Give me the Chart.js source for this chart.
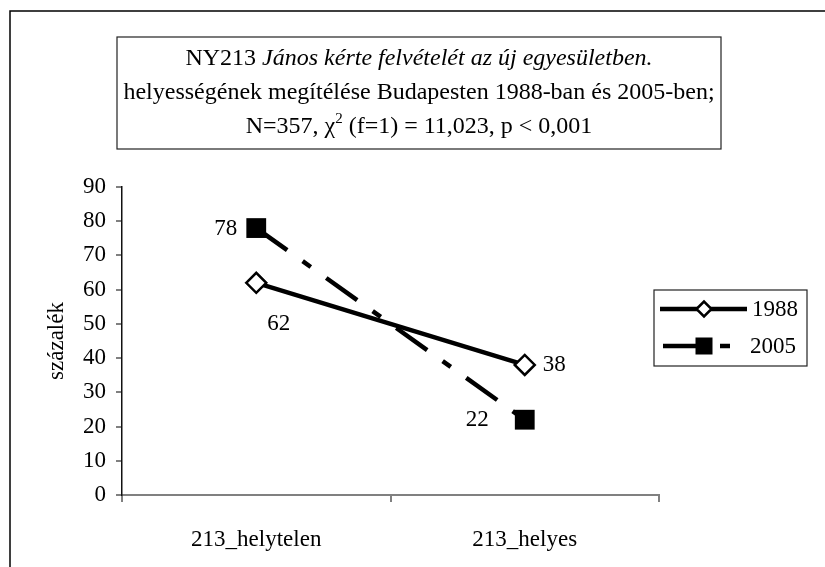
<!DOCTYPE html>
<html>
<head>
<meta charset="utf-8">
<script src="https://cdn.jsdelivr.net/npm/chart.js@4/dist/chart.umd.min.js"></script>
<style>
  html, body { margin: 0; padding: 0; background: #fff; }
  #wrap { position: relative; width: 825px; height: 567px; }
</style>
</head>
<body>
<div id="wrap"><canvas id="c"></canvas></div>
<script>
// ---- data ----
const categories = ['213_helytelen', '213_helyes'];
const seriesNames = ['1988', '2005'];
const values1988 = [62, 38];
const values2005 = [78, 22];
const yTicks = [0, 10, 20, 30, 40, 50, 60, 70, 80, 90];
const yAxisTitle = 'százalék';
const titleLine1a = 'NY213 ';
const titleLine1b = 'János kérte felvételét az új egyesületben.';
const titleLine2 = 'helyességének megítélése Budapesten 1988-ban és 2005-ben;';
const titleLine3a = 'N=357, χ';
const titleLine3sup = '2';
const titleLine3b = ' (f=1) = 11,023, p < 0,001';

const FONT = '"Liberation Serif", "Times New Roman", serif';
const FS = 23;

// label offsets per dataset/point: [dx, dy, align]
const labelPlacement = [
  [[11, 41, 'left'], [18, 0, 'left']],
  [[-19, 1, 'right'], [-36, 0, 'right']]
];

const framePlugin = {
  id: 'framePlugin',
  beforeDraw(chart) {
    const ctx = chart.ctx;
    ctx.save();
    ctx.fillStyle = '#fff';
    ctx.fillRect(0, 0, chart.width, chart.height);
    ctx.strokeStyle = '#000';
    ctx.lineWidth = 1.5;
    ctx.beginPath();
    ctx.moveTo(10, 600);
    ctx.lineTo(10, 11);
    ctx.lineTo(900, 11);
    ctx.stroke();
    // title box
    ctx.strokeStyle = '#222';
    ctx.lineWidth = 1.2;
    ctx.strokeRect(117, 37, 604, 112);
    ctx.fillStyle = '#000';
    ctx.textBaseline = 'alphabetic';
    const cx = 419;
    const norm = '24px ' + FONT;
    const ital = 'italic 24px ' + FONT;
    // line 1
    ctx.font = norm; const w1a = ctx.measureText(titleLine1a).width;
    ctx.font = ital; const w1b = ctx.measureText(titleLine1b).width;
    let x = cx - (w1a + w1b) / 2;
    ctx.textAlign = 'left';
    ctx.font = norm; ctx.fillText(titleLine1a, x, 65);
    ctx.font = ital; ctx.fillText(titleLine1b, x + w1a, 65);
    // line 2
    ctx.font = norm; ctx.textAlign = 'center';
    ctx.fillText(titleLine2, cx, 99);
    // line 3
    ctx.textAlign = 'left';
    const sup = '15px ' + FONT;
    ctx.font = norm; const w3a = ctx.measureText(titleLine3a).width;
    ctx.font = sup; const w3s = ctx.measureText(titleLine3sup).width;
    ctx.font = norm; const w3b = ctx.measureText(titleLine3b).width;
    x = cx - (w3a + w3s + w3b) / 2;
    ctx.font = norm; ctx.fillText(titleLine3a, x, 133);
    ctx.font = sup; ctx.fillText(titleLine3sup, x + w3a, 123);
    ctx.font = norm; ctx.fillText(titleLine3b, x + w3a + w3s, 133);
    ctx.restore();
  }
};

const labelPlugin = {
  id: 'labelPlugin',
  afterDatasetsDraw(chart) {
    const ctx = chart.ctx;
    ctx.save();
    ctx.font = FS + 'px ' + FONT;
    ctx.fillStyle = '#000';
    ctx.textBaseline = 'middle';
    chart.data.datasets.forEach((ds, di) => {
      const meta = chart.getDatasetMeta(di);
      meta.data.forEach((pt, i) => {
        const p = labelPlacement[di][i];
        ctx.textAlign = p[2];
        ctx.fillText(String(ds.data[i]), pt.x + p[0], pt.y + p[1]);
      });
    });
    ctx.restore();
  }
};

const legendPlugin = {
  id: 'legendPlugin',
  afterDraw(chart) {
    const ctx = chart.ctx;
    ctx.save();
    ctx.strokeStyle = '#222';
    ctx.lineWidth = 1.2;
    ctx.strokeRect(654, 290, 153, 76);
    const rows = [309, 346];
    chart.data.datasets.forEach((ds, di) => {
      const y = rows[di];
      ctx.strokeStyle = ds.borderColor;
      ctx.lineWidth = ds.borderWidth;
      ctx.setLineDash(ds.borderDash || []);
      ctx.beginPath();
      ctx.moveTo(di === 0 ? 660 : 663, y);
      ctx.lineTo(747, y);
      ctx.stroke();
      ctx.setLineDash([]);
      const mx = 704;
      if (ds.pointStyle === 'rectRot') {
        ctx.fillStyle = ds.pointBackgroundColor;
        ctx.strokeStyle = ds.pointBorderColor;
        ctx.lineWidth = ds.pointBorderWidth;
        ctx.beginPath();
        ctx.moveTo(mx - 7.5, y); ctx.lineTo(mx, y - 7.5);
        ctx.lineTo(mx + 7.5, y); ctx.lineTo(mx, y + 7.5);
        ctx.closePath(); ctx.fill(); ctx.stroke();
      } else {
        ctx.fillStyle = ds.pointBackgroundColor;
        ctx.fillRect(mx - 8.5, y - 8.5, 17, 17);
      }
      ctx.fillStyle = '#000';
      ctx.font = FS + 'px ' + FONT;
      ctx.textAlign = 'left';
      ctx.textBaseline = 'middle';
      ctx.fillText(ds.label, di === 0 ? 752 : 750, y + 1);
    });
    ctx.restore();
  }
};

new Chart(document.getElementById('c'), {
  type: 'line',
  data: {
    labels: categories,
    datasets: [
      {
        label: seriesNames[0],
        data: values1988,
        borderColor: '#000',
        borderWidth: 4.5,
        pointStyle: 'rectRot',
        pointRadius: 10,
        pointBackgroundColor: '#fff',
        pointBorderColor: '#000',
        pointBorderWidth: 2.5,
        tension: 0,
        fill: false
      },
      {
        label: seriesNames[1],
        data: values2005,
        borderColor: '#000',
        borderWidth: 4.5,
        borderDash: [38, 19, 10, 19],
        pointStyle: 'rect',
        pointRadius: 14,
        pointBackgroundColor: '#000',
        pointBorderColor: '#000',
        pointBorderWidth: 0,
        tension: 0,
        fill: false
      }
    ]
  },
  options: {
    responsive: true,
    maintainAspectRatio: false,
    animation: false,
    layout: { padding: { left: 43, top: 187, right: 166, bottom: 0 } },
    plugins: {
      legend: { display: false },
      title: { display: false },
      tooltip: { enabled: false }
    },
    scales: {
      x: {
        type: 'category',
        offset: true,
        grid: { offset: true, drawOnChartArea: false, drawTicks: true, tickLength: 7, color: '#808080', lineWidth: 2 },
        border: { color: '#808080', width: 2 },
        ticks: { color: '#000', font: { family: FONT, size: FS }, padding: 24, maxRotation: 0 },
        afterFit(scale) { scale.height = 72; }
      },
      y: {
        min: yTicks[0],
        max: yTicks[yTicks.length - 1],
        afterBuildTicks(scale) { scale.ticks = yTicks.map(v => ({ value: v })); },
        grid: { drawOnChartArea: false, drawTicks: true, tickLength: 6, color: '#808080', lineWidth: 2 },
        border: { color: '#111', width: 1.5 },
        ticks: { color: '#000', font: { family: FONT, size: FS }, padding: 10 },
        title: { display: true, text: yAxisTitle, color: '#000', font: { family: FONT, size: FS }, padding: 0 },
        afterFit(scale) { scale.width = 79; }
      }
    }
  },
  plugins: [framePlugin, labelPlugin, legendPlugin]
});
</script>
</body>
</html>
